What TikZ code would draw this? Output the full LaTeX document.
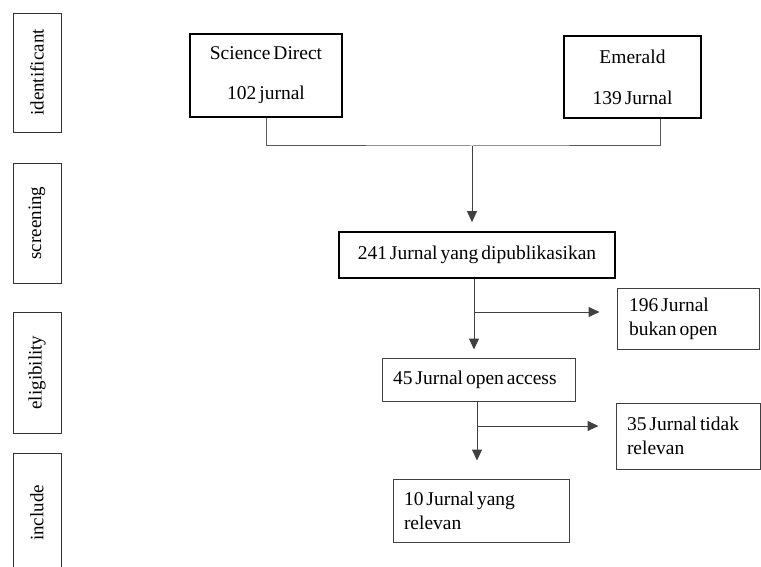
\documentclass[tikz,border=0pt]{standalone}
\usepackage{fontspec}
\setmainfont[WordSpace=0.6]{Liberation Serif}
\usetikzlibrary{arrows.meta,positioning}

\begin{document}
\begin{tikzpicture}[
  x=1pt, y=-1pt,
  phase/.style={draw=black!80, line width=0.9pt, rotate=90, minimum height=48pt, inner sep=0pt, font=\fontsize{19}{23}\selectfont},
  srcbox/.style={draw=black, line width=1.8pt, align=center, inner sep=0pt, font=\fontsize{19.5}{24}\selectfont},
  stepbox/.style={draw=black!75, line width=1pt, align=flush left, inner xsep=11pt, inner ysep=0pt, font=\fontsize{19.5}{24}\selectfont},
  link/.style={draw=black!65, line width=1pt},
  arrow/.style={-{Triangle[length=11pt,width=10pt]}, draw=black!75, line width=1pt}
]
\useasboundingbox (0,0) rectangle (761,567);
\clip (0,0) rectangle (761,567);
% phases on the left
\node[phase, minimum width=119pt] (ident) at (37,72.5) {identificant};
\node[phase, minimum width=120pt] (screen) at (37,223) {screening};
\node[phase, minimum width=121pt] (elig) at (37,372.5) {eligibility};
\node[phase, minimum width=120pt] (incl) at (37,513) {include};
% sources
\node[srcbox, minimum width=152pt, minimum height=83pt] (sd) at (266,75.5) {Science Direct\\[16pt]102 jurnal};
\node[srcbox, minimum width=137pt, minimum height=82pt] (em) at (632.5,77) {Emerald\\[17pt]139 Jurnal};
\node[srcbox, minimum width=276pt, minimum height=46pt] (pub) at (477,255) {241 Jurnal yang dipublikasikan};
% selection steps
\node[stepbox, text width=118pt, minimum height=61pt, inner xsep=12pt] (nonopen) at (688,318.5) {196 Jurnal\\bukan open};
\node[stepbox, text width=171pt, minimum height=43pt] (open) at (478.5,379.5) {45~Jurnal~open~access};
\node[stepbox, text width=122pt, minimum height=66pt] (irrel) at (688,436) {35~Jurnal~tidak\\relevan};
\node[stepbox, text width=154pt, minimum height=63pt] (rel) at (481,510.5) {10~Jurnal~yang\\relevan};
% connectors
\coordinate (join) at (472,146);
\coordinate (fork1) at (474,312);
\coordinate (fork2) at (477,426);
\draw[link] (sd.south) |- (join) -| ([xshift=27.5pt]em.south);
\draw[arrow, shorten >=9pt] (join) -- (join |- pub.north);
\draw[arrow, shorten >=8pt] ([xshift=-3pt]pub.south) -- ([xshift=-3pt]pub.south |- open.north);
\draw[arrow, shorten >=17pt] (fork1) -- (fork1 -| nonopen.west);
\draw[arrow, shorten >=18pt] ([xshift=-1.5pt]open.south) -- ([xshift=-1.5pt]open.south |- rel.north);
\draw[arrow, shorten >=17pt] (fork2) -- (fork2 -| irrel.west);
\end{tikzpicture}
\end{document}
